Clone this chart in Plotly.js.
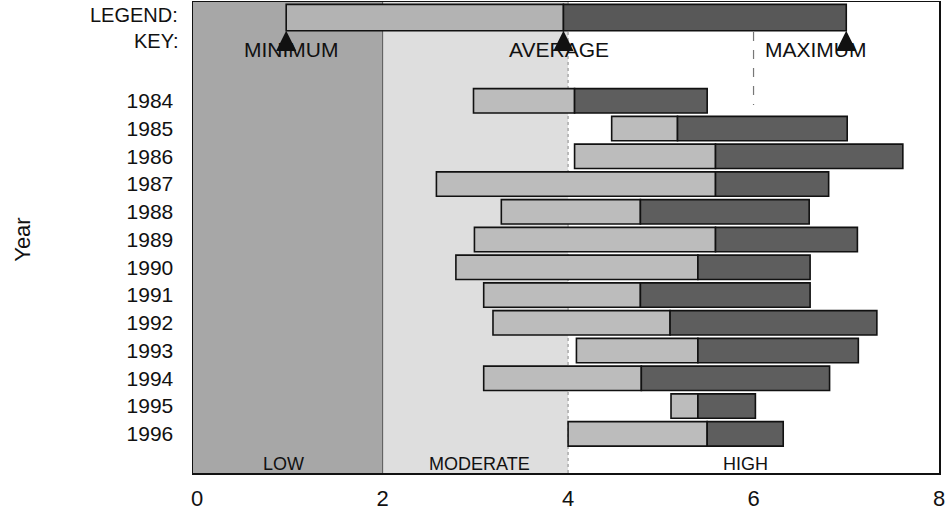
<!DOCTYPE html>
<html>
<head>
<meta charset="utf-8">
<script src="https://cdn.plot.ly/plotly-3.0.1.min.js"></script>
<style>html,body{margin:0;padding:0;background:#fff;}#chart{width:948px;height:516px;}</style>
</head>
<body>
<div id="chart"></div>
<script>
// ---- data ----
const years = [1984, 1985, 1986, 1987, 1988, 1989, 1990, 1991, 1992, 1993, 1994, 1995, 1996];
const yearLabels = ["1984", "1985", "1986", "1987", "1988", "1989", "1990", "1991", "1992", "1993", "1994", "1995", "1996"];
const minVals = [2.98, 4.47, 4.07, 2.58, 3.28, 2.99, 2.79, 3.09, 3.19, 4.09, 3.09, 5.11, 4.00];
const avgVals = [4.07, 5.18, 5.59, 5.59, 4.78, 5.59, 5.40, 4.78, 5.10, 5.40, 4.79, 5.40, 5.50];
const maxVals = [5.50, 7.01, 7.61, 6.81, 6.60, 7.12, 6.61, 6.61, 7.33, 7.13, 6.82, 6.02, 6.32];

const legendRow = [1981];
const legendMin = [0.96];
const legendAvg = [3.95];
const legendMax = [7.00];
const legendNames = ["MINIMUM", "AVERAGE", "MAXIMUM"];

const zoneNames = ["LOW", "MODERATE", "HIGH"];
const zoneStart = [0, 2, 4];
const zoneEnd = [2, 4, 8];
const zoneLabelX = [0.935, 3.04, 5.91];
const xTicks = [0, 2, 4, 6, 8];
const dashedX = 6;

// ---- styles ----
const FONT = "Liberation Sans, Arial, Helvetica, sans-serif";
const xRange = [-0.045, 8.0];
const yRange = [1997.41, 1980.44];
const zoneColors = ["#a7a7a7", "#dedede", "rgba(0,0,0,0)"];
const lightBar = "#bcbcbc";
const darkBar = "#5e5e5e";

const traces = [
  {
    type: "bar", orientation: "h", y: years,
    x: avgVals.map((a, i) => a - minVals[i]), base: minVals,
    width: 0.88,
    marker: {color: lightBar, line: {color: "#111", width: 1.6}},
    hoverinfo: "skip", showlegend: false
  },
  {
    type: "bar", orientation: "h", y: years,
    x: maxVals.map((m, i) => m - avgVals[i]), base: avgVals,
    width: 0.88,
    marker: {color: darkBar, line: {color: "#111", width: 1.6}},
    hoverinfo: "skip", showlegend: false
  },
  {
    type: "bar", orientation: "h", y: legendRow,
    x: legendAvg.map((a, i) => a - legendMin[i]), base: legendMin,
    width: 0.95,
    marker: {color: "#b3b3b3", line: {color: "#111", width: 1.6}},
    hoverinfo: "skip", showlegend: false
  },
  {
    type: "bar", orientation: "h", y: legendRow,
    x: legendMax.map((m, i) => m - legendAvg[i]), base: legendAvg,
    width: 0.95,
    marker: {color: "#585858", line: {color: "#111", width: 1.6}},
    hoverinfo: "skip", showlegend: false
  }
];

const shapes = [];
zoneStart.forEach((s, i) => {
  shapes.push({
    type: "rect", layer: "below", xref: "x", yref: "paper",
    x0: i === 0 ? xRange[0] : s, x1: zoneEnd[i], y0: 0, y1: 1,
    fillcolor: zoneColors[i], line: {width: 0}
  });
});
shapes.push({type: "line", layer: "below", xref: "x", yref: "paper", x0: 2, x1: 2, y0: 0, y1: 1, line: {color: "#555", width: 1}});
shapes.push({type: "line", layer: "below", xref: "x", yref: "paper", x0: 4, x1: 4, y0: 0, y1: 1, line: {color: "#888", width: 1, dash: "dot"}});
const legendBottom = legendRow[0] + 0.475;
shapes.push({type: "line", layer: "below", xref: "x", yref: "y", x0: dashedX, x1: dashedX, y0: legendBottom + 0.05, y1: years[0] + 0.15, line: {color: "#777", width: 1.2, dash: "dash"}});

const annotations = [];
const arrowX = [legendMin[0], legendAvg[0], legendMax[0]];
const labelX = [legendMin[0] + 0.05, legendAvg[0] - 0.05, legendMax[0] - 0.33];
arrowX.forEach((ax, i) => {
  annotations.push({
    x: ax, y: legendBottom, xref: "x", yref: "y", text: "", showarrow: true,
    ax: 0, ay: 15, arrowhead: 2, arrowsize: 2.7, arrowwidth: 1.5, arrowcolor: "#111"
  });
  annotations.push({
    x: labelX[i], y: 1982.15, xref: "x", yref: "y", text: legendNames[i], showarrow: false,
    font: {family: FONT, size: 21, color: "#111"}, xanchor: "center", yanchor: "middle"
  });
});
zoneNames.forEach((n, i) => {
  annotations.push({
    x: zoneLabelX[i], y: 1997.07, xref: "x", yref: "y", text: n, showarrow: false,
    font: {family: FONT, size: 18, color: "#111"}, xanchor: "center", yanchor: "middle"
  });
});
annotations.push({x: -0.017, y: 1980.91, xref: "paper", yref: "y", text: "LEGEND:", showarrow: false, xanchor: "right", yanchor: "middle", font: {family: FONT, size: 20, color: "#111"}});
annotations.push({x: -0.017, y: 1981.85, xref: "paper", yref: "y", text: "KEY:", showarrow: false, xanchor: "right", yanchor: "middle", font: {family: FONT, size: 20, color: "#111"}});
annotations.push({x: -0.228, y: 0.495, xref: "paper", yref: "paper", text: "Year", showarrow: false, textangle: -90, xanchor: "center", yanchor: "middle", font: {family: FONT, size: 22, color: "#111"}});

const layout = {
  width: 948, height: 516,
  margin: {l: 193, r: 9, t: 2, b: 43},
  paper_bgcolor: "#fff", plot_bgcolor: "#fff",
  barmode: "overlay",
  font: {family: FONT, color: "#111"},
  xaxis: {
    range: xRange, tickvals: xTicks, ticktext: xTicks.map(String),
    showgrid: false, zeroline: false, showline: true, mirror: true,
    linecolor: "#111", linewidth: 1.5, ticks: "", ticklabelstandoff: 5,
    tickfont: {family: FONT, size: 22, color: "#111"}
  },
  yaxis: {
    range: yRange, tickvals: years, ticktext: yearLabels,
    showgrid: false, zeroline: false, showline: true, mirror: true,
    linecolor: "#111", linewidth: 1.5, ticks: "", ticklabelstandoff: 14,
    tickfont: {family: FONT, size: 21, color: "#111"}
  },
  shapes: shapes,
  annotations: annotations
};

Plotly.newPlot("chart", traces, layout, {displayModeBar: false, staticPlot: true});
</script>
</body>
</html>
